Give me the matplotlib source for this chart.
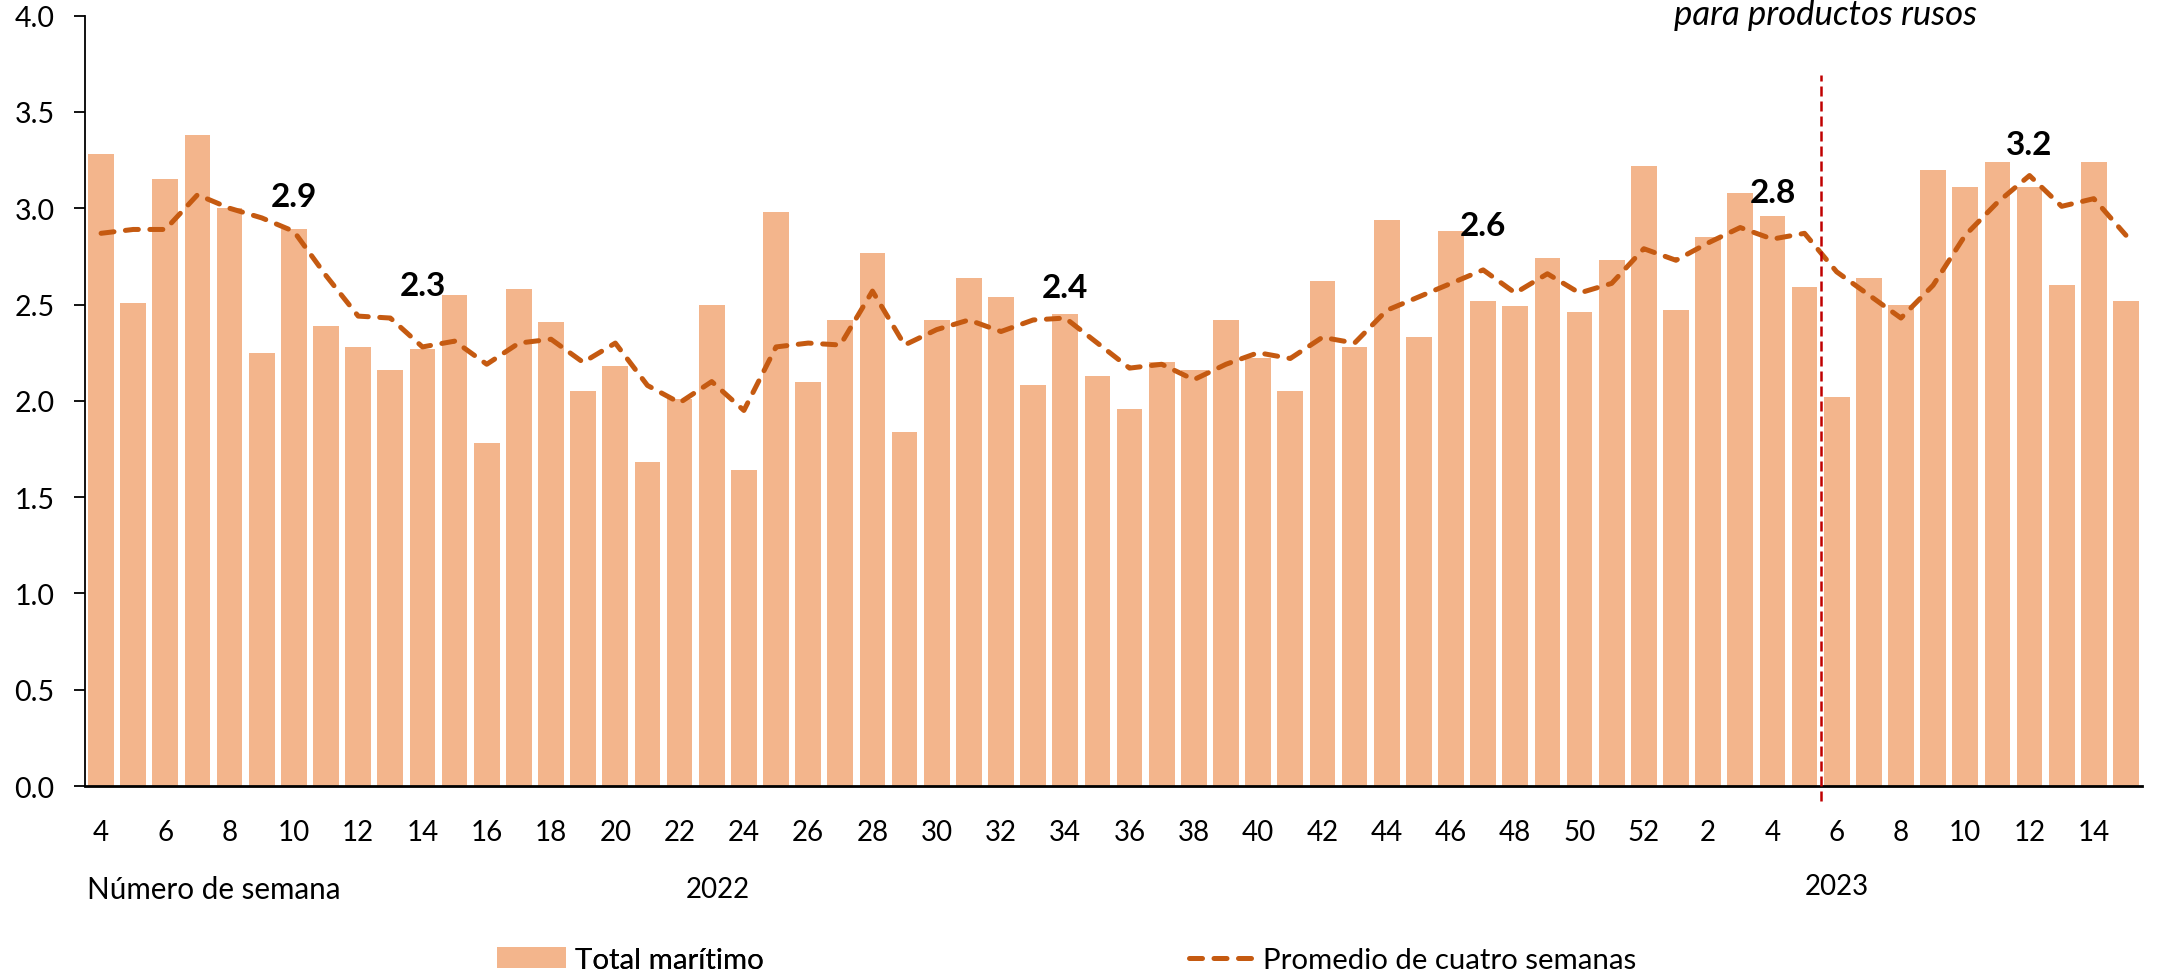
import matplotlib
matplotlib.use("Agg")
import matplotlib.pyplot as plt
from matplotlib.lines import Line2D
from matplotlib.patches import Patch

plt.rcParams['font.family'] = ['Lato', 'DejaVu Sans']

# ---- data ----
weeks = list(range(4, 53)) + list(range(1, 16))
total_maritimo = [
    3.28, 2.51, 3.15, 3.38, 3.00, 2.25, 2.89, 2.39, 2.28, 2.16,
    2.27, 2.55, 1.78, 2.58, 2.41, 2.05, 2.18, 1.68, 2.01, 2.50,
    1.64, 2.98, 2.10, 2.42, 2.77, 1.84, 2.42, 2.64, 2.54, 2.08,
    2.45, 2.13, 1.96, 2.20, 2.16, 2.42, 2.22, 2.05, 2.62, 2.28,
    2.94, 2.33, 2.88, 2.52, 2.49, 2.74, 2.46, 2.73, 3.22, 2.47,
    2.85, 3.08, 2.96, 2.59, 2.02, 2.64, 2.50, 3.20, 3.11, 3.24,
    3.11, 2.60, 3.24, 2.52,
]
promedio_4s = [
    2.87, 2.89, 2.89, 3.07, 3.00, 2.95, 2.88, 2.65, 2.44, 2.43,
    2.28, 2.31, 2.19, 2.30, 2.32, 2.20, 2.30, 2.08, 1.99, 2.10,
    1.95, 2.28, 2.30, 2.29, 2.57, 2.29, 2.37, 2.42, 2.36, 2.42,
    2.43, 2.30, 2.17, 2.19, 2.11, 2.19, 2.25, 2.22, 2.33, 2.30,
    2.47, 2.54, 2.61, 2.68, 2.56, 2.66, 2.56, 2.61, 2.79, 2.73,
    2.82, 2.90, 2.84, 2.87, 2.67, 2.55, 2.43, 2.60, 2.86, 3.03,
    3.17, 3.01, 3.05, 2.86,
]
label_idx = [6, 10, 30, 43, 52, 60]
label_txt = ["2.9", "2.3", "2.4", "2.6", "2.8", "3.2"]
label_y = [3.06, 2.60, 2.59, 2.91, 3.08, 3.33]
embargo_pos = 53.5
year_labels = ["2022", "2023"]

bar_color = "#F3B58C"
line_color = "#C55A11"
red = "#C00000"
DASH = (2.6, 2.3)

W, H = 2157, 979
fig = plt.figure(figsize=(W / 100, H / 100), dpi=100)
ax = fig.add_axes([85 / W, 1 - 787 / H, (2142 - 85) / W, (787 - 16.7) / H])

x = list(range(len(weeks)))
ax.bar(x, total_maritimo, width=0.8, color=bar_color, zorder=2)
ax.plot(x, promedio_4s, color=line_color, lw=3.6, dashes=DASH,
        dash_capstyle='round', solid_capstyle='round', zorder=3)

for i, t, yy in zip(label_idx, label_txt, label_y):
    ax.text(i, yy, t, ha='center', va='center', fontsize=24,
            fontweight='bold', color='black', zorder=4)

ax.plot([embargo_pos, embargo_pos], [-0.08, 3.69], color=red, lw=1.8,
        dashes=(4, 2), clip_on=False, zorder=5)

ax.set_xlim(-0.5, len(weeks) - 0.5)
ax.set_ylim(0, 4.0)
ax.set_yticks([0, 0.5, 1.0, 1.5, 2.0, 2.5, 3.0, 3.5, 4.0])
ax.set_yticklabels([f"{v:.1f}" for v in ax.get_yticks()])
ax.set_xticks(x[::2])
ax.set_xticklabels([str(w) for w in weeks[::2]])

ax.tick_params(axis='y', labelsize=20.5, length=8, width=1.3, pad=14, direction='out')
ax.tick_params(axis='x', labelsize=20, length=0, pad=24)
for s in ['top', 'right']:
    ax.spines[s].set_visible(False)
ax.spines['left'].set_linewidth(1.3)
ax.spines['bottom'].set_linewidth(2.0)

fig.text(87 / W, 1 - 890 / H, "Número de semana", ha='left', va='center', fontsize=21.3)
fig.text(718 / W, 1 - 890 / H, year_labels[0], ha='center', va='center', fontsize=20)
fig.text(1837 / W, 1 - 887 / H, year_labels[1], ha='center', va='center', fontsize=20)

fig.text(1825 / W, 1 - 25 / H, "para productos rusos", ha='center', va='baseline',
         fontsize=25, style='italic')

leg_kw = dict(frameon=False, fontsize=21.2, handletextpad=0.3, borderpad=0,
              borderaxespad=0, loc='center left')
leg1 = fig.legend([Patch(facecolor=bar_color, edgecolor='none')], ["Total marítimo"],
                  bbox_to_anchor=(497 / W, 1 - 961 / H), handlelength=2.35, **leg_kw)
fig.add_artist(leg1)
fig.legend([Line2D([0], [0], color=line_color, lw=3.6, dashes=DASH,
                   dash_capstyle='round')],
           ["Promedio de cuatro semanas"],
           bbox_to_anchor=(1189 / W, 1 - 961 / H), handlelength=2.2, **leg_kw)

fig.savefig("out.png", dpi=100)
